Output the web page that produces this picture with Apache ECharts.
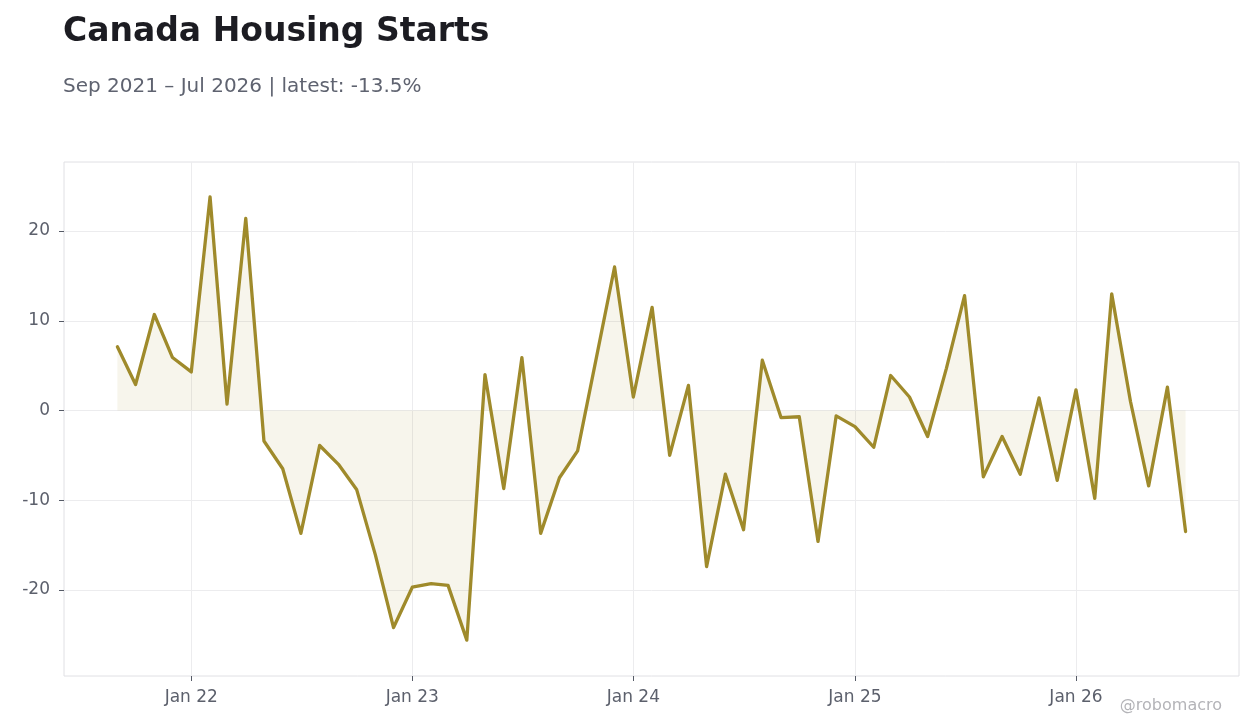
<!DOCTYPE html>
<html>
<head>
<meta charset="utf-8">
<script src="https://cdn.jsdelivr.net/npm/echarts@6/dist/echarts.min.js"></script>
<style>
html,body{margin:0;padding:0;background:#fff;}
#chart{width:1260px;height:728px;}
</style>
</head>
<body>
<div id="chart"></div>
<script>
const months = ['2021-09','2021-10','2021-11','2021-12',
  '2022-01','2022-02','2022-03','2022-04','2022-05','2022-06','2022-07','2022-08','2022-09','2022-10','2022-11','2022-12',
  '2023-01','2023-02','2023-03','2023-04','2023-05','2023-06','2023-07','2023-08','2023-09','2023-10','2023-11','2023-12',
  '2024-01','2024-02','2024-03','2024-04','2024-05','2024-06','2024-07','2024-08','2024-09','2024-10','2024-11','2024-12',
  '2025-01','2025-02','2025-03','2025-04','2025-05','2025-06','2025-07','2025-08','2025-09','2025-10','2025-11','2025-12',
  '2026-01','2026-02','2026-03','2026-04','2026-05','2026-06','2026-07'];
const values = [7.1, 2.9, 10.7, 5.9,
  4.3, 23.8, 0.7, 21.4, -3.4, -6.5, -13.7, -3.9, -6.0, -8.8, -16.1, -24.2,
  -19.7, -19.3, -19.5, -25.6, 4.0, -8.7, 5.9, -13.7, -7.5, -4.5, 5.9, 16.0,
  1.5, 11.5, -5.0, 2.8, -17.4, -7.1, -13.3, 5.6, -0.8, -0.7, -14.6, -0.6,
  -1.8, -4.1, 3.9, 1.5, -2.9, 4.7, 12.8, -7.4, -2.9, -7.1, 1.4, -7.8,
  2.3, -9.8, 13.0, 1.0, -8.4, 2.6, -13.5];
const xTickMonths = ['2022-01','2023-01','2024-01','2025-01','2026-01'];
const xTickLabels = ['Jan 22','Jan 23','Jan 24','Jan 25','Jan 26'];
const yTicks = [-20, -10, 0, 10, 20];

// x positions are days since 1970 (plain numbers on a value axis)
function dayNum(s){ const p = s.split('-'); return Date.UTC(+p[0], +p[1]-1, 1) / 86400000; }
const seriesData = months.map((m,i)=>[dayNum(m), values[i]]);
const t0 = dayNum(months[0]), t1 = dayNum(months[months.length-1]);
const pad = (t1 - t0) * 0.05;
const xTickVals = xTickMonths.map(dayNum);

const FONT = 'DejaVu Sans';
const chart = echarts.init(document.getElementById('chart'));
chart.setOption({
  animation: false,
  backgroundColor: '#ffffff',
  title: [
    { text: 'Canada Housing Starts', left: 58, top: 7, padding: 5,
      textStyle: { fontFamily: FONT, fontSize: 33, fontWeight: 'bold', color: '#1c1c22', lineHeight: 40 } },
    { text: 'Sep 2021 – Jul 2026 | latest: -13.5%', left: 58, top: 70, padding: 5,
      textStyle: { fontFamily: FONT, fontSize: 20, fontWeight: 'normal', color: '#5f6370', lineHeight: 24 } }
  ],
  grid: { left: 64, right: 21, top: 162, bottom: 52, show: true, borderColor: '#e0e0e4', borderWidth: 1 },
  xAxis: {
    type: 'value',
    min: t0 - pad, max: t1 + pad,
    axisLine: { show: false, onZero: false },
    axisTick: { show: true, length: 5, lineStyle: { color: '#555a66' }, customValues: xTickVals },
    axisLabel: { customValues: xTickVals, margin: 13, fontFamily: FONT, fontSize: 17, color: '#5c606c',
      formatter: function(v){ const i = xTickVals.indexOf(v); return i >= 0 ? xTickLabels[i] : ''; } },
    splitLine: { show: true, lineStyle: { color: '#ececee', width: 1 } }
  },
  yAxis: {
    type: 'value',
    min: -29.6, max: 27.7,
    axisLine: { show: false, onZero: false },
    axisTick: { show: true, length: 5, lineStyle: { color: '#555a66' }, customValues: yTicks },
    axisLabel: { customValues: yTicks, margin: 14, fontFamily: FONT, fontSize: 17, color: '#5c606c' },
    splitLine: { show: true, lineStyle: { color: '#ececee', width: 1 } }
  },
  graphic: [
    { type: 'text', right: 38, top: 698,
      style: { text: '@robomacro', font: '16px "DejaVu Sans"', fill: '#b4b4b8' } }
  ],
  series: [{
    type: 'line',
    data: seriesData,
    showSymbol: false,
    symbol: 'none',
    lineStyle: { color: '#9f8a2b', width: 3.3, join: 'round', cap: 'round' },
    itemStyle: { color: '#9f8a2b' },
    areaStyle: { color: 'rgba(160,135,40,0.085)', opacity: 1 }
  }]
});
</script>
</body>
</html>
